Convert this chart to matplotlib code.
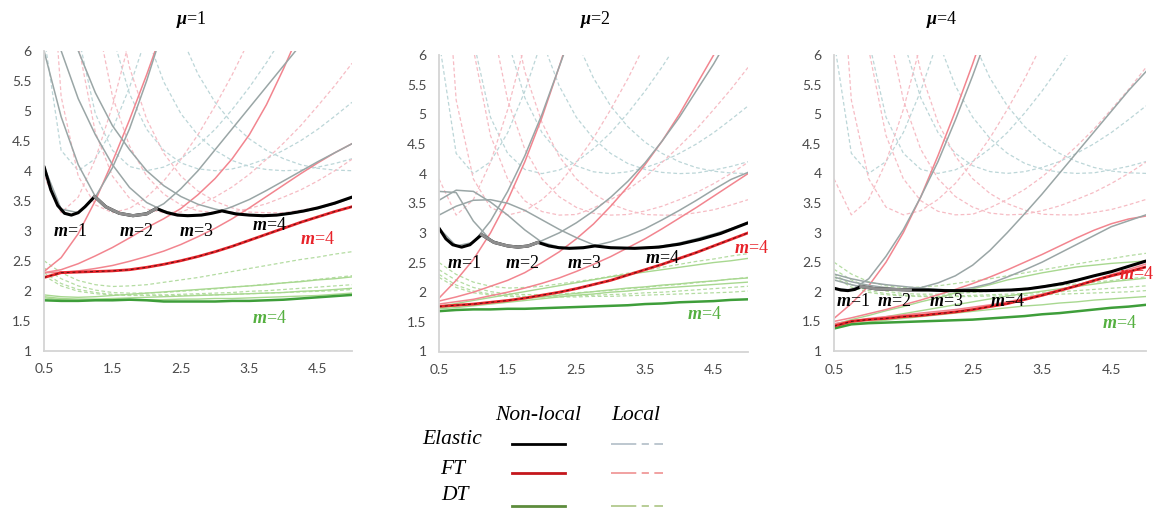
import numpy as np
import matplotlib
matplotlib.use("Agg")
import matplotlib.pyplot as plt
from matplotlib.lines import Line2D

plt.rcParams['mathtext.fontset'] = 'custom'
plt.rcParams['mathtext.it'] = 'Liberation Serif:italic:bold'
plt.rcParams['mathtext.rm'] = 'Liberation Serif'
plt.rcParams['mathtext.bf'] = 'Liberation Serif:bold'

N = np.nan

# aspect ratio grid shared by every curve
ratio = [0.5, 0.75, 1.0, 1.25, 1.5, 1.75, 2.0, 2.25, 2.5, 2.75, 3.0,
         3.25, 3.5, 3.75, 4.0, 4.25, 4.5, 4.75, 5.0]

panel_titles = [r'$\mu$=1', r'$\mu$=2', r'$\mu$=4']
x_ticks = [0.5, 1.5, 2.5, 3.5, 4.5]
y_ticks = [1, 1.5, 2, 2.5, 3, 3.5, 4, 4.5, 5, 5.5, 6]

# ---- local theory (independent of mu) ----
loc_el_m1 = [6.25, 4.34, 4.00, 4.20, 4.69, 5.39, 6.25, N, N, N, N, N, N, N, N, N, N, N, N]
loc_el_m2 = [N, 9.25, 6.25, 4.95, 4.34, 4.07, 4.00, 4.06, 4.20, 4.42, 4.69, 5.02, 5.39, 5.80, 6.25, 6.74, N, N, N]
loc_el_m3 = [N, N, 11.1, 7.93, 6.25, 5.28, 4.69, 4.34, 4.13, 4.03, 4.00, 4.03, 4.10, 4.20, 4.34, 4.50, 4.69, 4.91, 5.14]
loc_el_m4 = [N, N, N, N, 9.25, 7.42, 6.25, 5.48, 4.95, 4.59, 4.34, 4.17, 4.07, 4.02, 4.00, 4.01, 4.06, 4.12, 4.20]
loc_el_m5 = [N, N, N, N, N, N, 8.41, 7.14, 6.25, 5.61, 5.14, 4.79, 4.53, 4.34, 4.20, 4.10, 4.04, 4.01, 4.00]

loc_ft_m1 = [3.91, 3.30, 3.56, 4.19, 5.08, 6.18, N, N, N, N, N, N, N, N, N, N, N, N, N]
loc_ft_m2 = [9.40, 5.24, 3.91, 3.43, 3.30, 3.37, 3.56, 3.83, 4.19, 4.60, 5.08, 5.60, 6.18, N, N, N, N, N, N]
loc_ft_m3 = [N, 9.40, 6.10, 4.64, 3.91, 3.54, 3.36, 3.30, 3.31, 3.42, 3.56, 3.73, 3.94, 4.19, 4.46, 4.75, 5.08, 5.42, 5.79]
loc_ft_m4 = [N, N, 9.40, 6.67, 5.24, 4.41, 3.91, 3.61, 3.43, 3.33, 3.30, 3.31, 3.37, 3.45, 3.56, 3.68, 3.83, 4.00, 4.19]
loc_ft_m5 = [N, N, N, N, 7.07, 5.72, 4.86, 4.29, 3.91, 3.66, 3.49, 3.38, 3.31, 3.30, 3.30, 3.34, 3.39, 3.47, 3.56]

loc_dt_m1 = [2.50, 2.30, 2.17, 2.10, 2.07, 2.08, 2.10, 2.14, 2.18, 2.22, 2.27, 2.32, 2.37, 2.42, 2.47, 2.52, 2.56, 2.61, 2.65]
loc_dt_m2 = [2.38, 2.20, 2.08, 2.01, 1.97, 1.96, 1.96, 1.97, 1.99, 2.01, 2.03, 2.06, 2.08, 2.11, 2.13, 2.16, 2.19, 2.22, 2.25]
loc_dt_m3 = [2.30, 2.12, 2.02, 1.97, 1.94, 1.93, 1.93, 1.93, 1.94, 1.95, 1.96, 1.97, 1.99, 2.00, 2.02, 2.04, 2.06, 2.08, 2.10]
loc_dt_m4 = [2.25, 2.08, 1.99, 1.95, 1.93, 1.92, 1.92, 1.92, 1.92, 1.93, 1.93, 1.94, 1.95, 1.96, 1.97, 1.98, 1.99, 2.00, 2.02]

# ---- non-local, mu = 1 ----
el1_m1 = [4.07, 3.36, 3.30, 3.56, 4.05, 4.70, 5.50, 6.40, N, N, N, N, N, N, N, N, N, N, N]
el1_m2 = [6.00, 4.90, 4.10, 3.57, 3.32, 3.25, 3.30, 3.45, 3.70, 4.00, 4.35, 4.70, 5.05, 5.40, 5.75, 6.10, 6.45, N, N]
el1_m3 = [7.20, 6.00, 5.20, 4.60, 4.10, 3.72, 3.47, 3.33, 3.26, 3.26, 3.30, 3.40, 3.52, 3.67, 3.83, 3.99, 4.15, 4.30, 4.45]
el1_m4 = [8.50, 7.20, 6.00, 5.30, 4.75, 4.35, 4.00, 3.75, 3.57, 3.44, 3.36, 3.30, 3.26, 3.25, 3.27, 3.31, 3.37, 3.45, 3.55]
ft1_m1 = [2.32, 2.55, 2.95, 3.50, 4.15, 4.85, 5.60, 6.40, N, N, N, N, N, N, N, N, N, N, N]
ft1_m2 = [2.30, 2.35, 2.45, 2.58, 2.72, 2.88, 3.05, 3.20, 3.37, 3.60, 3.87, 4.20, 4.60, 5.10, 5.70, 6.35, N, N, N]
ft1_m3 = [2.30, 2.31, 2.33, 2.37, 2.42, 2.49, 2.57, 2.66, 2.77, 2.90, 3.04, 3.20, 3.38, 3.57, 3.76, 3.95, 4.13, 4.30, 4.45]
ft1_m4 = [2.22, 2.30, 2.31, 2.32, 2.33, 2.35, 2.39, 2.44, 2.50, 2.57, 2.65, 2.74, 2.84, 2.94, 3.04, 3.14, 3.23, 3.32, 3.40]
dt1_m1 = [1.93, 1.90, 1.89, 1.90, 1.92, 1.94, 1.96, 1.98, 2.00, 2.02, 2.04, 2.06, 2.08, 2.10, 2.13, 2.15, 2.18, 2.20, 2.23]
dt1_m2 = [1.90, 1.87, 1.86, 1.86, 1.87, 1.88, 1.89, 1.90, 1.91, 1.92, 1.93, 1.94, 1.95, 1.96, 1.97, 1.99, 2.00, 2.02, 2.04]
dt1_m3 = [1.88, 1.85, 1.84, 1.84, 1.84, 1.84, 1.85, 1.85, 1.86, 1.86, 1.87, 1.87, 1.88, 1.89, 1.90, 1.91, 1.92, 1.94, 1.96]
dt1_m4 = [1.84, 1.83, 1.83, 1.84, 1.84, 1.85, 1.84, 1.82, 1.82, 1.82, 1.82, 1.83, 1.83, 1.84, 1.85, 1.87, 1.89, 1.91, 1.93]
env1_x = [0.5, 0.6, 0.7, 0.8, 0.9, 1.0, 1.1, 1.24, 1.4, 1.6, 1.8, 2.0, 2.14, 2.3, 2.45, 2.6,
          2.8, 2.95, 3.1, 3.3, 3.5, 3.7, 3.9, 4.1, 4.3, 4.5, 4.75, 5.0]
env1_y = [4.07, 3.68, 3.42, 3.29, 3.26, 3.30, 3.40, 3.57, 3.40, 3.29, 3.25, 3.28, 3.37, 3.30,
          3.26, 3.25, 3.26, 3.29, 3.33, 3.28, 3.26, 3.25, 3.26, 3.29, 3.33, 3.38, 3.46, 3.56]
env1_m2 = (1.24, 2.14)

# ---- non-local, mu = 2 ----
el2_m1 = [3.08, 2.78, 2.84, 3.20, 3.70, 4.30, 5.00, 5.80, 6.60, N, N, N, N, N, N, N, N, N, N]
el2_m2 = [3.70, 3.68, 3.20, 2.88, 2.78, 2.77, 2.87, 3.00, 3.17, 3.37, 3.60, 3.87, 4.18, 4.55, 4.95, 5.40, 5.85, 6.35, N]
el2_m3 = [3.55, 3.72, 3.70, 3.52, 3.30, 3.05, 2.84, 2.76, 2.74, 2.78, 2.85, 2.95, 3.07, 3.22, 3.38, 3.55, 3.73, 3.90, 4.02]
el2_m4 = [3.30, 3.45, 3.55, 3.56, 3.50, 3.38, 3.22, 3.06, 2.92, 2.80, 2.75, 2.74, 2.75, 2.78, 2.83, 2.90, 2.98, 3.07, 3.17]
ft2_m1 = [1.90, 2.20, 2.55, 3.00, 3.55, 4.20, 4.95, 5.80, 6.70, N, N, N, N, N, N, N, N, N, N]
ft2_m2 = [1.85, 1.92, 2.00, 2.10, 2.20, 2.33, 2.50, 2.68, 2.90, 3.15, 3.45, 3.78, 4.15, 4.55, 5.00, 5.50, 6.00, 6.55, N]
ft2_m3 = [1.80, 1.84, 1.88, 1.94, 2.00, 2.07, 2.15, 2.24, 2.35, 2.47, 2.60, 2.75, 2.90, 3.07, 3.25, 3.43, 3.62, 3.81, 4.00]
ft2_m4 = [1.76, 1.78, 1.80, 1.83, 1.86, 1.90, 1.95, 2.00, 2.06, 2.13, 2.20, 2.29, 2.38, 2.47, 2.57, 2.67, 2.78, 2.89, 3.00]
dt2_m1 = [1.76, 1.81, 1.86, 1.91, 1.96, 2.01, 2.06, 2.11, 2.16, 2.21, 2.26, 2.30, 2.34, 2.38, 2.42, 2.46, 2.50, 2.53, 2.57]
dt2_m2 = [1.74, 1.77, 1.80, 1.83, 1.86, 1.89, 1.92, 1.95, 1.98, 2.01, 2.04, 2.07, 2.09, 2.12, 2.14, 2.17, 2.19, 2.22, 2.24]
dt2_m3 = [1.72, 1.74, 1.77, 1.80, 1.83, 1.86, 1.89, 1.92, 1.95, 1.97, 2.00, 2.02, 2.05, 2.07, 2.09, 2.11, 2.13, 2.15, 2.17]
dt2_m4 = [1.68, 1.70, 1.71, 1.71, 1.72, 1.72, 1.73, 1.74, 1.75, 1.76, 1.77, 1.78, 1.80, 1.81, 1.83, 1.84, 1.85, 1.87, 1.88]
env2_x = [0.5, 0.6, 0.7, 0.83, 0.95, 1.05, 1.12, 1.3, 1.5, 1.65, 1.8, 1.94, 2.1, 2.25, 2.4,
          2.6, 2.77, 3.0, 3.35, 3.7, 4.0, 4.3, 4.6, 5.0]
env2_y = [3.08, 2.90, 2.80, 2.76, 2.80, 2.90, 2.97, 2.84, 2.78, 2.76, 2.78, 2.84, 2.78, 2.75,
          2.74, 2.75, 2.78, 2.75, 2.74, 2.76, 2.81, 2.89, 2.99, 3.17]
env2_m2 = (1.12, 1.94)

# ---- non-local, mu = 4 ----
el3_m1 = [2.06, 2.03, 2.22, 2.60, 3.05, 3.60, 4.20, 4.90, 5.65, 6.45, N, N, N, N, N, N, N, N, N]
el3_m2 = [2.20, 2.12, 2.06, 2.04, 2.04, 2.07, 2.15, 2.27, 2.45, 2.70, 3.00, 3.32, 3.65, 4.00, 4.35, 4.70, 5.05, 5.40, 5.72]
el3_m3 = [2.25, 2.17, 2.11, 2.07, 2.04, 2.02, 2.02, 2.03, 2.07, 2.14, 2.25, 2.37, 2.50, 2.65, 2.80, 2.95, 3.10, 3.20, 3.30]
el3_m4 = [2.30, 2.22, 2.16, 2.12, 2.09, 2.06, 2.04, 2.03, 2.02, 2.02, 2.03, 2.05, 2.09, 2.14, 2.20, 2.27, 2.34, 2.43, 2.52]
ft3_m1 = [1.55, 1.80, 2.10, 2.50, 3.00, 3.60, 4.30, 5.05, 5.85, 6.70, N, N, N, N, N, N, N, N, N]
ft3_m2 = [1.50, 1.56, 1.63, 1.70, 1.78, 1.86, 1.95, 2.04, 2.14, 2.25, 2.37, 2.50, 2.63, 2.77, 2.91, 3.04, 3.15, 3.23, 3.28]
ft3_m3 = [1.46, 1.51, 1.55, 1.58, 1.61, 1.64, 1.67, 1.70, 1.74, 1.78, 1.83, 1.89, 1.96, 2.03, 2.11, 2.20, 2.29, 2.38, 2.47]
ft3_m4 = [1.42, 1.50, 1.53, 1.55, 1.58, 1.60, 1.63, 1.66, 1.70, 1.75, 1.80, 1.87, 1.94, 2.02, 2.10, 2.19, 2.27, 2.34, 2.42]
dt3_m1 = [1.45, 1.53, 1.60, 1.68, 1.75, 1.83, 1.90, 1.98, 2.05, 2.12, 2.20, 2.26, 2.32, 2.37, 2.42, 2.45, 2.48, 2.50, 2.52]
dt3_m2 = [1.43, 1.48, 1.53, 1.58, 1.63, 1.68, 1.73, 1.78, 1.83, 1.88, 1.93, 1.97, 2.01, 2.05, 2.09, 2.13, 2.17, 2.20, 2.23]
dt3_m3 = [1.41, 1.46, 1.49, 1.52, 1.55, 1.58, 1.61, 1.64, 1.67, 1.70, 1.73, 1.76, 1.78, 1.81, 1.83, 1.86, 1.88, 1.90, 1.92]
dt3_m4 = [1.38, 1.45, 1.47, 1.48, 1.49, 1.50, 1.51, 1.52, 1.53, 1.55, 1.57, 1.59, 1.62, 1.64, 1.67, 1.70, 1.73, 1.75, 1.78]
env3_x = [0.5, 0.6, 0.7, 0.8, 0.89, 1.1, 1.37, 1.6, 1.86, 2.1, 2.34, 2.7, 3.06, 3.3, 3.54,
          3.8, 4.02, 4.25, 4.5, 4.75, 5.0]
env3_y = [2.06, 2.03, 2.02, 2.04, 2.09, 2.05, 2.04, 2.03, 2.03, 2.02, 2.02, 2.02, 2.03, 2.05,
          2.09, 2.14, 2.20, 2.27, 2.34, 2.43, 2.52]
env3_m2 = (0.89, 1.6)

# label anchor points (x, y) per panel: m=1..4 elastic, m=4 FT, m=4 DT
lab1 = [(0.88, 2.98), (1.84, 2.98), (2.73, 2.98), (3.80, 3.08), (4.50, 2.86), (3.80, 1.54)]
lab2 = [(0.86, 2.49), (1.71, 2.49), (2.61, 2.49), (3.76, 2.56), (5.05, 2.73), (4.37, 1.62)]
lab3 = [(0.77, 1.83), (1.37, 1.83), (2.12, 1.83), (3.00, 1.83), (5.12, 2.30), (4.62, 1.46)]

C_EL_LOC = '#bcd6d8'
C_FT_LOC = '#f6bcc4'
C_DT_LOC = '#b4dca2'
C_EL = '#9aa6a6'
C_FT = '#f2858f'
C_DT = '#a8d890'
C_RED = '#e8232a'
C_GRN = '#3e9e3a'

fig = plt.figure(figsize=(11.57, 5.11), dpi=100)
W, H = 1157.0, 511.0
boxes = [(44, 50.7, 352, 350.7), (439, 55, 748, 351.5), (834, 55, 1146, 351)]
title_x = [191, 595, 942]


def draw_panel(ax, el, ft, dt, env_x, env_y, m2span, labs):
    for ys in (loc_dt_m1, loc_dt_m2, loc_dt_m3, loc_dt_m4):
        ax.plot(ratio, ys, color=C_DT_LOC, lw=0.9, dashes=(3, 2))
    for ys in (loc_el_m1, loc_el_m2, loc_el_m3, loc_el_m4, loc_el_m5):
        ax.plot(ratio, ys, color=C_EL_LOC, lw=0.9, dashes=(3, 2))
    for ys in (loc_ft_m1, loc_ft_m2, loc_ft_m3, loc_ft_m4, loc_ft_m5):
        ax.plot(ratio, ys, color=C_FT_LOC, lw=0.9, dashes=(3, 2))
    for ys in dt[:3]:
        ax.plot(ratio, ys, color=C_DT, lw=1.0)
    for ys in ft[:3]:
        ax.plot(ratio, ys, color=C_FT, lw=1.1)
    for ys in el:
        ax.plot(ratio, ys, color=C_EL, lw=1.1)
    # non-local envelopes
    ax.plot(ratio, dt[3], color=C_GRN, lw=1.8)
    ax.plot(ratio, ft[3], color=C_RED, lw=2.0)
    ax.plot(ratio, ft[3], color='#2a0a0a', lw=0.7, dashes=(3, 3), alpha=0.75)
    ex = np.array(env_x)
    ey = np.array(env_y)
    ax.plot(ex, ey, color='black', lw=2.2, solid_capstyle='round')
    sel = (ex >= m2span[0]) & (ex <= m2span[1])
    ax.plot(ex[sel], ey[sel], color='#8e8e8e', lw=2.3)

    ax.set_xlim(0.5, 5.0)
    ax.set_ylim(1, 6)
    ax.set_xticks(x_ticks)
    ax.set_xticklabels([f'{v:g}' for v in x_ticks])
    ax.set_yticks(y_ticks)
    ax.set_yticklabels([f'{v:g}' for v in y_ticks])
    ax.tick_params(length=0, labelsize=10, labelcolor='#4a4a4a')
    ax.tick_params(axis='x', pad=9)
    ax.tick_params(axis='y', pad=9)
    for lab in ax.get_xticklabels() + ax.get_yticklabels():
        lab.set_fontfamily('Lato')
    for s in ('top', 'right'):
        ax.spines[s].set_visible(False)
    for s in ('left', 'bottom'):
        ax.spines[s].set_color('#d4d4d4')
        ax.spines[s].set_linewidth(1.3)

    kw = dict(fontsize=13, family='Liberation Serif', va='center')
    for k in range(4):
        ax.text(labs[k][0], labs[k][1], f'$m$={k + 1}', color='black', ha='center', **kw)
    ax.text(labs[5][0], labs[5][1], '$m$=4', color='#55b040', ha='center', **kw)


panels = [
    ((el1_m1, el1_m2, el1_m3, el1_m4), (ft1_m1, ft1_m2, ft1_m3, ft1_m4),
     (dt1_m1, dt1_m2, dt1_m3, dt1_m4), env1_x, env1_y, env1_m2, lab1),
    ((el2_m1, el2_m2, el2_m3, el2_m4), (ft2_m1, ft2_m2, ft2_m3, ft2_m4),
     (dt2_m1, dt2_m2, dt2_m3, dt2_m4), env2_x, env2_y, env2_m2, lab2),
    ((el3_m1, el3_m2, el3_m3, el3_m4), (ft3_m1, ft3_m2, ft3_m3, ft3_m4),
     (dt3_m1, dt3_m2, dt3_m3, dt3_m4), env3_x, env3_y, env3_m2, lab3),
]

for i, ((l, t, r, b), p, title) in enumerate(zip(boxes, panels, panel_titles)):
    ax = fig.add_axes([l / W, 1 - b / H, (r - l) / W, (b - t) / H])
    draw_panel(ax, *p)
    fx_lab, fy_lab = p[6][4]
    # FT label; the last panel's one is right-aligned to stay inside the figure
    ha = 'center' if i < 2 else 'right'
    ax.text(fx_lab, fy_lab, '$m$=4', color=C_RED, fontsize=13,
            family='Liberation Serif', va='center', ha=ha)
    fig.text(title_x[i] / W, 1 - 20 / H, title, fontsize=13, family='Liberation Serif',
             ha='center', va='center')


# legend table below the panels
def fx(px):
    return px / W


def fy(py):
    return 1 - py / H


serif = dict(family='Liberation Serif', style='italic', fontsize=15.5, va='center')
fig.text(fx(538), fy(416), 'Non-local', ha='center', **serif)
fig.text(fx(636), fy(416), 'Local', ha='center', **serif)
fig.text(fx(452), fy(440), 'Elastic', ha='center', **serif)
fig.text(fx(453), fy(469), 'FT', ha='center', **serif)
fig.text(fx(455), fy(496), 'DT', ha='center', **serif)

legend_rows = [(444, 'black', '#b7c3cc'), (473, '#c4161c', '#f09a9a'), (506, '#5d8c3c', '#b2c98e')]
for py, c_nl, c_loc in legend_rows:
    fig.add_artist(Line2D([fx(512), fx(565)], [fy(py), fy(py)], color=c_nl, lw=2.0,
                          transform=fig.transFigure))
    fig.add_artist(Line2D([fx(611), fx(663)], [fy(py), fy(py)], color=c_loc, lw=1.3,
                          dashes=(14, 3, 4, 3), transform=fig.transFigure))

fig.savefig('out.png', dpi=100)
